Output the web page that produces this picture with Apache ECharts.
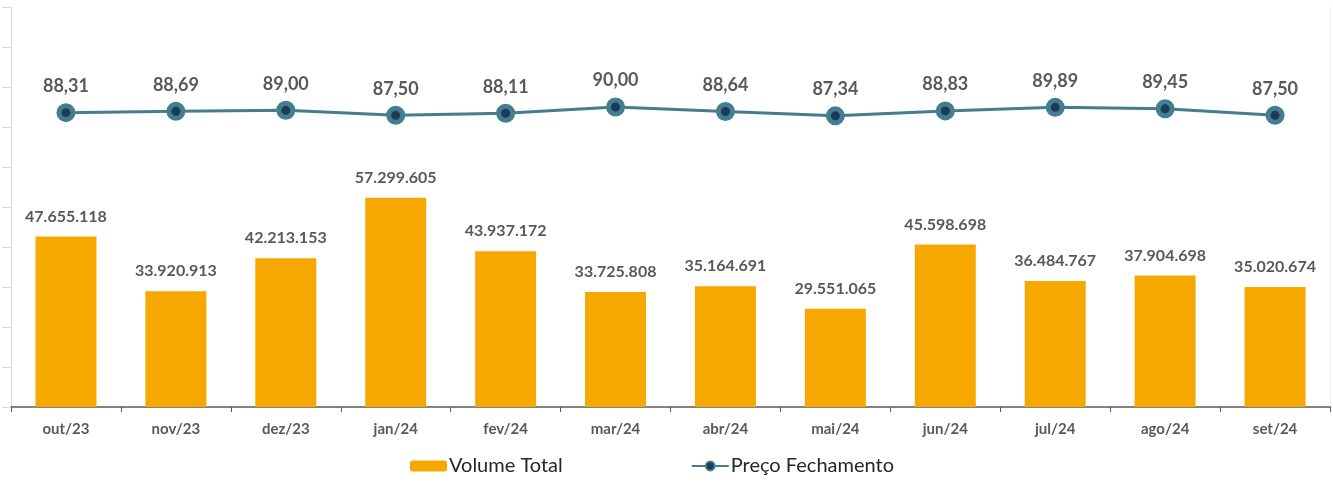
<!DOCTYPE html>
<html>
<head>
<meta charset="utf-8">
<script src="https://cdn.jsdelivr.net/npm/echarts@6/dist/echarts.min.js"></script>
<style>html,body{margin:0;padding:0;background:#fff}#c{width:1333px;height:486px}</style>
</head>
<body>
<div id="c"></div>
<script>
const categories = ['out/23','nov/23','dez/23','jan/24','fev/24','mar/24','abr/24','mai/24','jun/24','jul/24','ago/24','set/24'];
const volumeTotal = [47655118, 33920913, 42213153, 57299605, 43937172, 33725808, 35164691, 29551065, 45598698, 36484767, 37904698, 35020674];
const precoFechamento = [88.31, 88.69, 89.00, 87.50, 88.11, 90.00, 88.64, 87.34, 88.83, 89.89, 89.45, 87.50];

const chart = echarts.init(document.getElementById('c'));
const fmtVol = v => String(v).replace(/\B(?=(\d{3})+(?!\d))/g, '.');
const fmtPrice = v => v.toFixed(2).replace('.', ',');
chart.setOption({
  animation: false,
  textStyle: { fontFamily: 'Lato' },
  grid: { left: 11, right: 3, top: 7, bottom: 79, containLabel: false },
  legend: {
    bottom: 5, left: 405, itemGap: 128, itemWidth: 37, itemHeight: 11,
    textStyle: { fontFamily: 'Lato', fontSize: 20, color: '#262626', padding: [0,0,0,-3] },
    data: ['Volume Total', 'Preço Fechamento']
  },
  xAxis: {
    type: 'category', data: categories,
    axisLine: { lineStyle: { color: '#595959', width: 1.5 } },
    axisTick: { show: true, length: 5, lineStyle: { color: '#595959' } },
    axisLabel: { color: '#595959', fontWeight: 'bold', fontSize: 15, margin: 15, fontFamily: 'Lato' }
  },
  yAxis: [
    { type: 'value', position: 'left', min: 0, max: 120, interval: 12,
      axisLine: { show: true, lineStyle: { color: '#D9D9D9' } },
      axisTick: { show: true, inside: false, length: 9, lineStyle: { color: '#D9D9D9' } },
      axisLabel: { show: false }, splitLine: { show: false } },
    { type: 'value', position: 'right', min: 5000000, max: 105000000,
      axisLine: { show: true, lineStyle: { color: '#F0F0F0' } },
      axisTick: { show: false }, axisLabel: { show: false }, splitLine: { show: false } }
  ],
  series: [
    { name: 'Volume Total', type: 'bar', yAxisIndex: 1, data: volumeTotal, barWidth: 61,
      itemStyle: { color: '#F6A800' },
      label: { show: true, position: 'top', distance: 12, color: '#595959', fontWeight: 'bold', fontSize: 16,
        fontFamily: 'Lato', formatter: p => fmtVol(p.value) } },
    { name: 'Preço Fechamento', type: 'line', yAxisIndex: 0, data: precoFechamento,
      symbol: 'circle', symbolSize: 14,
      lineStyle: { color: '#447D8E', width: 3 },
      itemStyle: { color: '#1B3A5C', borderColor: '#447D8E', borderWidth: 5 },
      label: { show: true, position: 'top', distance: 8, color: '#595959', fontWeight: 'bold', fontSize: 18,
        fontFamily: 'Lato', formatter: p => fmtPrice(p.value) } }
  ]
});
</script>
</body>
</html>
